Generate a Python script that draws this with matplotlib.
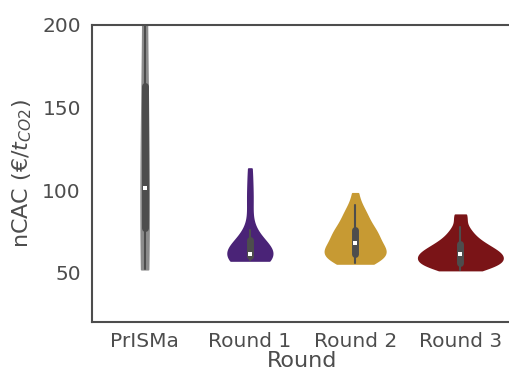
import numpy as np
import pandas as pd
import matplotlib
matplotlib.use("Agg")
import matplotlib.pyplot as plt
import seaborn as sns

# nCAC values per round (EUR / t CO2)
prisma = [52, 77, 101, 163, 260]
round1 = [57.3, 58, 58.3, 58.7, 59, 59.3, 59.6, 60,
          60.2, 60.4, 60.6, 60.8, 60.9, 61, 61.2,
          62, 63, 64.5, 66, 67.5, 69, 71,
          73, 75.5, 88, 95, 103, 113]
round2 = [55.5, 56.5, 57.5, 58, 58.5, 59, 59.5, 60, 60.5, 61, 61,
          62.5, 63, 63.5, 64, 64.5, 65, 65.5, 67.5, 68.5,
          69.5, 70.5, 71.5, 72.5, 73.5, 74, 74.5, 75.3, 75.8,
          77.5, 79.5, 81.5, 83, 84.5, 86, 88, 91, 98]
round3 = [51.5, 52, 52.5, 53, 53.5, 54, 54.3, 54.6, 55, 55.2, 55.4, 55.6, 55.8,
          56, 56.5, 57, 57.5, 58, 58.5, 59, 59.3, 59.6, 59.9, 60.2, 60.5, 60.8,
          61, 61.3, 61.6, 62, 62.4, 62.8, 63.2, 63.7, 64.2, 64.8, 65.4, 66,
          66.5, 67, 67.5, 68.2, 69, 70, 71, 72, 73.5, 75, 76.5, 77.5,
          84, 84.5, 85]

categories = ["PrISMa", "Round 1", "Round 2", "Round 3"]
colors = ["#8c8c8c", "#4a2377", "#c79a33", "#7a1417"]

df = pd.DataFrame({
    "Round": (["PrISMa"] * len(prisma) + ["Round 1"] * len(round1)
              + ["Round 2"] * len(round2) + ["Round 3"] * len(round3)),
    "nCAC": prisma + round1 + round2 + round3,
})

grey = "#4d4d4d"
sns.set_style("white")
plt.rcParams.update({
    "axes.edgecolor": grey,
    "axes.labelcolor": grey,
    "text.color": grey,
    "xtick.color": grey,
    "ytick.color": grey,
    "axes.linewidth": 1.5,
    "font.family": ["DejaVu Sans"],
})

fig = plt.figure(figsize=(5.09, 3.79), dpi=100)
ax = fig.add_axes([92 / 509, 1 - 322 / 379, 421 / 509, 297 / 379])

# violin width scaled by number of observations
sns.violinplot(data=df, x="Round", y="nCAC", hue="Round", order=categories,
               palette=colors, saturation=1, cut=0, inner="box",
               density_norm="count", common_norm=True,
               inner_kws=dict(box_width=5, whis_width=1.5, color=grey,
                              marker="s"),
               legend=False, ax=ax)

# no dark outline around the violins
for coll in ax.collections:
    coll.set_edgecolor(coll.get_facecolor())
# small white median dots
for ln in ax.lines:
    if ln.get_marker() not in (None, "None", ""):
        ln.set_markersize(2.2)
        ln.set_markeredgewidth(0)

ax.set_ylim(20, 200)
ax.set_yticks([50, 100, 150, 200])
ax.tick_params(axis="both", length=0, labelsize=14.5)
ax.tick_params(axis="x", pad=7)
ax.tick_params(axis="y", pad=8)
ax.set_xlabel("Round", fontsize=16, labelpad=0)
ax.set_ylabel("nCAC (€/$t_{CO2}$)", fontsize=16, labelpad=6)
for s in ax.spines.values():
    s.set_visible(True)

fig.savefig("out.png", dpi=100)
